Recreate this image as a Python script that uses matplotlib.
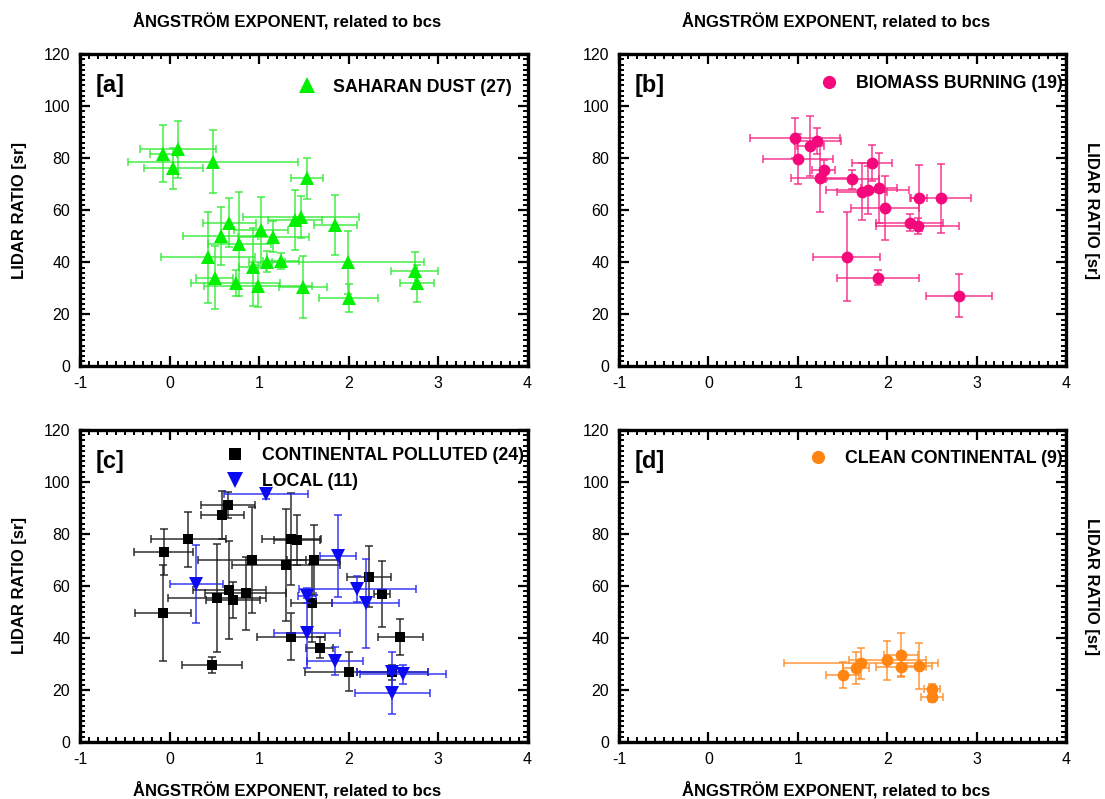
import matplotlib
matplotlib.use("Agg")
import matplotlib.pyplot as plt
from matplotlib.ticker import MultipleLocator
from matplotlib.lines import Line2D

plt.rcParams['font.family'] = ['Liberation Sans', 'DejaVu Sans']
plt.rcParams['axes.unicode_minus'] = False

# ---------------- data ----------------
# [a] Saharan dust
sd_x = [-0.07, 0.095, 0.04, 0.49, 1.54, 0.67, 0.57, 0.43, 0.78, 1.02, 1.405, 1.466, 1.16,
        1.09, 1.25, 0.93, 0.505, 0.74, 0.99, 1.49, 1.85, 1.99, 2.0, 2.74, 2.76]
sd_y = [81.7, 83.5, 76.1, 78.7, 72.3, 55.2, 50.1, 41.9, 46.9, 52.4, 56.3, 57.5, 49.9,
        40.2, 40.5, 38.3, 34.1, 31.9, 30.9, 30.4, 54.3, 40.0, 26.2, 36.8, 31.9]
sd_xerr = [0.15, 0.42, 0.33, 0.95, 0.18, 0.3, 0.42, 0.52, 0.35, 0.3, 0.3, 0.65, 0.4,
           0.2, 0.2, 0.15, 0.21, 0.5, 0.6, 0.27, 0.24, 0.85, 0.33, 0.26, 0.19]
sd_yerr = [11, 11, 8, 12, 8, 9.5, 11, 17.6, 20, 12.6, 11.6, 8, 6,
           4, 3, 15, 12, 5, 8, 12, 11.5, 12, 5.5, 7, 7]

# [b] Biomass burning
bb_x = [0.97, 1.0, 1.14, 1.22, 1.29, 1.25, 1.545, 1.61, 1.83, 1.72, 1.78, 1.91, 1.98,
        1.9, 2.25, 2.34, 2.36, 2.6, 2.8]
bb_y = [87.7, 79.6, 84.7, 86.7, 75.5, 72.5, 42.2, 71.9, 78.3, 67.2, 67.8, 68.5, 60.8,
        34.1, 55.2, 54.0, 64.6, 64.6, 27.2]
bb_xerr = [0.5, 0.39, 0.15, 0.26, 0.13, 0.33, 0.37, 0.3, 0.22, 0.28, 0.46, 0.2, 0.38,
           0.46, 0.37, 0.46, 0.09, 0.34, 0.37]
bb_yerr = [7.7, 9.6, 11.7, 5, 3.7, 13, 17, 3.7, 7, 11, 9.3, 13.5, 12.4,
           3, 3.2, 3, 12.7, 13.3, 8.3]

# [c] Continental polluted
cp_x = [-0.065, -0.07, 0.21, 0.65, 0.59, 0.92, 1.3, 1.36, 1.425, 0.67, 0.53, 0.71,
        0.85, 0.475, 1.36, 1.61, 1.59, 1.68, 2.0, 2.23, 2.37, 2.58, 2.49]
cp_y = [73.2, 49.5, 78.0, 91.2, 87.3, 70.0, 68.1, 78.1, 77.8, 58.5, 55.3, 54.6,
        57.2, 29.6, 40.5, 70.0, 53.3, 36.3, 27.0, 63.6, 56.8, 40.5, 26.8]
cp_xerr = [0.33, 0.31, 0.42, 0.3, 0.24, 0.6, 0.6, 0.33, 0.26, 0.41, 0.55, 0.3,
           0.45, 0.34, 0.38, 0.3, 0.23, 0.15, 0.49, 0.25, 0.09, 0.25, 0.4]
cp_yerr = [8.8, 18.5, 10.6, 5, 9.3, 20.5, 21.5, 17.6, 9.7, 19, 20.8, 7,
           14, 3.2, 9, 13.6, 15, 4, 7.5, 11.8, 12.7, 7, 3]

# [c] Local
lo_x = [1.075, 0.3, 1.88, 2.1, 2.19, 1.54, 1.54, 1.85, 2.49, 2.61, 2.49]
lo_y = [95.3, 60.6, 71.5, 59.0, 53.3, 56.3, 41.8, 31.2, 26.8, 26.0, 18.7]
lo_xerr = [0.47, 0.3, 0.2, 0.65, 0.37, 0.1, 0.37, 0.31, 0.4, 0.48, 0.42]
lo_yerr = [2, 15, 15.8, 5, 17, 3, 13.5, 5.5, 8, 3.5, 8]

# [d] Clean continental
cc_x = [1.5, 1.65, 1.705, 2.0, 2.15, 2.15, 2.36, 2.5, 2.5]
cc_y = [25.7, 28.6, 30.3, 31.5, 33.4, 28.7, 29.2, 20.3, 17.4]
cc_xerr = [0.19, 0.15, 0.86, 0.43, 0.19, 0.28, 0.14, 0.09, 0.12]
cc_yerr = [5, 6.2, 6, 7.5, 8.4, 3.3, 8.7, 2.2, 2]

XLABEL = "ÅNGSTRÖM EXPONENT, related to bcs"
YLABEL = "LIDAR RATIO [sr]"

# ---------------- figure ----------------
fig = plt.figure(figsize=(11.05, 7.99), dpi=100)
W, H = 1105, 799
def axes_px(l, r, t, b):
    return fig.add_axes([l / W, 1 - b / H, (r - l) / W, (b - t) / H])

ax_a = axes_px(80, 527.5, 54.3, 366.3)
ax_b = axes_px(619, 1066, 54.3, 366.3)
ax_c = axes_px(80, 527.5, 430, 742)
ax_d = axes_px(619, 1066, 430, 742)

def style(ax):
    ax.set_xlim(-1, 4)
    ax.set_ylim(0, 120)
    ax.xaxis.set_major_locator(MultipleLocator(1))
    ax.xaxis.set_minor_locator(MultipleLocator(0.1))
    ax.yaxis.set_major_locator(MultipleLocator(20))
    ax.yaxis.set_minor_locator(MultipleLocator(2))
    ax.tick_params(which='both', direction='in', top=True, right=True,
                   labelsize=11.5, pad=7)
    ax.tick_params(which='major', length=7.5, width=1.6)
    ax.tick_params(which='minor', length=3.5, width=1.4)
    for s in ax.spines.values():
        s.set_linewidth(2.4)

def series(ax, x, y, xe, ye, color, marker, ms, ecolor):
    ax.errorbar(x, y, xerr=xe, yerr=ye, fmt='none', ecolor=ecolor,
                elinewidth=1.1, capsize=2.8, capthick=1.1)
    ax.plot(x, y, linestyle='none', marker=marker, color=color,
            markersize=ms, markeredgewidth=0)

for ax in (ax_a, ax_b, ax_c, ax_d):
    style(ax)

series(ax_a, sd_x, sd_y, sd_xerr, sd_yerr, '#00f000', '^', 10, (0.2, 0.92, 0.2, 0.9))
series(ax_b, bb_x, bb_y, bb_xerr, bb_yerr, '#f4087c', 'o', 8.5, (0.96, 0.15, 0.52, 0.9))
series(ax_c, cp_x, cp_y, cp_xerr, cp_yerr, 'black', 's', 7.5, (0.1, 0.1, 0.1, 0.9))
series(ax_c, lo_x, lo_y, lo_xerr, lo_yerr, '#0a0af5', 'v', 9.5, (0.15, 0.15, 0.95, 0.9))
series(ax_d, cc_x, cc_y, cc_xerr, cc_yerr, '#ff8410', 'o', 8.5, (1.0, 0.55, 0.15, 0.9))

# panel tags
for ax, tag in ((ax_a, '[a]'), (ax_b, '[b]'), (ax_c, '[c]'), (ax_d, '[d]')):
    ax.text(0.036, 0.9, tag, transform=ax.transAxes, fontsize=17,
            fontweight='bold', ha='left', va='center')

# legends
def legend(ax, items, anchor):
    handles = [Line2D([], [], linestyle='none', marker=m, color=c, markersize=s,
                      markeredgewidth=0) for (m, c, s, _) in items]
    labels = [t for (_, _, _, t) in items]
    ax.legend(handles, labels, loc='upper right', bbox_to_anchor=anchor,
              frameon=False, handlelength=1.0, handletextpad=1.0,
              labelspacing=0.5, borderaxespad=0.3,
              prop={'weight': 'bold', 'size': 12.8})

legend(ax_a, [('^', '#00f000', 11, 'SAHARAN DUST (27)')], (0.993, 0.962))
legend(ax_b, [('o', '#f4087c', 9.5, 'BIOMASS BURNING (19)')], (1.02, 0.972))
legend(ax_c, [('s', 'black', 8.5, 'CONTINENTAL POLLUTED (24)'),
              ('v', '#0a0af5', 11, 'LOCAL (11)')], (1.02, 0.985))
legend(ax_d, [('o', '#ff8410', 9.5, 'CLEAN CONTINENTAL (9)')], (1.02, 0.975))

# axis labels
lab = dict(fontsize=12, fontweight='bold')
for ax, xpos in ((ax_a, 0.462), (ax_b, 0.485)):
    ax.xaxis.set_label_position('top')
    ax.set_xlabel(XLABEL, labelpad=20, **lab)
    ax.xaxis.label.set_x(xpos)
for ax, xpos in ((ax_c, 0.462), (ax_d, 0.485)):
    ax.set_xlabel(XLABEL, labelpad=10, **lab)
    ax.xaxis.label.set_x(xpos)
for ax in (ax_a, ax_c):
    ax.set_ylabel(YLABEL, labelpad=12, **lab)
for ax in (ax_b, ax_d):
    ax.yaxis.set_label_position('right')
    ax.set_ylabel(YLABEL, rotation=270, labelpad=24, **lab)

fig.savefig('out.png', dpi=100)
